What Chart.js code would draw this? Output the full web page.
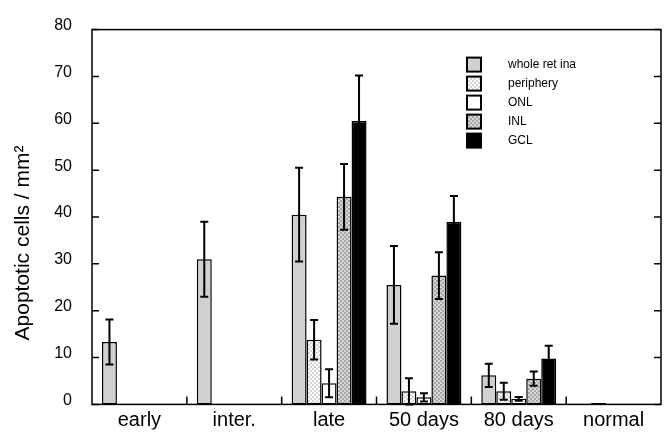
<!DOCTYPE html>
<html>
<head>
<meta charset="utf-8">
<script src="https://cdn.jsdelivr.net/npm/chart.js@4"></script>
<style>
html, body { margin: 0; padding: 0; background: #fff; }
#wrap { width: 666px; height: 434px; }
</style>
</head>
<body>
<div id="wrap"><canvas id="myChart"></canvas></div>
<script>
// data
var labels = ["early", "inter.", "late", "50 days", "80 days", "normal"];
var wholeRetina    = [13.3, 31.0, 40.5, 25.5, 6.2, null];
var wholeRetinaErr = [4.8, 8.0, 10.0, 8.3, 2.5, null];
var periphery      = [null, null, 13.8, 2.8, 2.8, 0.3];
var peripheryErr   = [null, null, 4.2, 2.8, 1.8, null];
var onl            = [null, null, 4.5, 1.5, 1.2, null];
var onlErr         = [null, null, 3.0, 0.9, 0.4, null];
var inl            = [null, null, 44.3, 27.5, 5.5, null];
var inlErr         = [null, null, 7.0, 5.0, 1.5, null];
var gcl            = [null, null, 60.5, 39.0, 9.8, null];
var gclErr         = [null, null, 9.7, 5.5, 2.7, null];
var yTicks = [0, 10, 20, 30, 40, 50, 60, 70, 80];
var yTitle = "Apoptotic cells / mm\u00b2";

var FONT = "'Liberation Sans', Arial, sans-serif";

function checker(c1, c2, size) {
    var cv = document.createElement("canvas");
    cv.width = size * 2;
    cv.height = size * 2;
    var c = cv.getContext("2d");
    c.fillStyle = c1;
    c.fillRect(0, 0, size * 2, size * 2);
    c.fillStyle = c2;
    c.fillRect(0, 0, size, size);
    c.fillRect(size, size, size, size);
    return document.getElementById("myChart").getContext("2d").createPattern(cv, "repeat");
}

var periphFill = checker("#ffffff", "#d4d4d4", 2);
var inlFill = checker("#d8d8d8", "#a6a6a6", 2);

function ds(label, data, err, fill) {
    return {
        label: label,
        data: data,
        err: err,
        backgroundColor: fill,
        borderColor: "#000",
        borderWidth: 1.5,
        borderSkipped: false,
        barPercentage: 1.0,
        categoryPercentage: 0.79
    };
}

// error bars
var errorBars = {
    id: "errorBars",
    afterDatasetsDraw: function (chart) {
        var ctx = chart.ctx;
        var y = chart.scales.y;
        ctx.save();
        ctx.strokeStyle = "#000";
        ctx.lineWidth = 2;
        chart.data.datasets.forEach(function (d, i) {
            var meta = chart.getDatasetMeta(i);
            meta.data.forEach(function (bar, j) {
                var v = d.data[j], e = d.err[j];
                if (v == null || e == null) return;
                var x = bar.x;
                var top = y.getPixelForValue(v + e);
                var bot = y.getPixelForValue(Math.max(v - e, 0));
                ctx.beginPath();
                ctx.moveTo(x, top); ctx.lineTo(x, bot);
                ctx.moveTo(x - 4, top); ctx.lineTo(x + 4, top);
                ctx.moveTo(x - 4, bot); ctx.lineTo(x + 4, bot);
                ctx.stroke();
            });
        });
        ctx.restore();
    }
};

// box frame with inward ticks, plus the y title
var frame = {
    id: "frame",
    afterDraw: function (chart) {
        var ctx = chart.ctx;
        var a = chart.chartArea;
        var y = chart.scales.y, x = chart.scales.x;
        ctx.save();
        ctx.strokeStyle = "#000";
        ctx.lineWidth = 1.5;
        ctx.strokeRect(a.left, a.top, a.right - a.left, a.bottom - a.top);
        ctx.beginPath();
        yTicks.forEach(function (t) {
            var py = y.getPixelForValue(t);
            ctx.moveTo(a.left, py); ctx.lineTo(a.left + 7, py);
            ctx.moveTo(a.right, py); ctx.lineTo(a.right - 7, py);
        });
        for (var i = 1; i < labels.length; i++) {
            var px = (x.getPixelForValue(i - 1) + x.getPixelForValue(i)) / 2;
            ctx.moveTo(px, a.bottom); ctx.lineTo(px, a.bottom - 8);
        }
        ctx.stroke();

        ctx.translate(23, 243);
        ctx.rotate(-Math.PI / 2);
        ctx.font = "21px " + FONT;
        ctx.fillStyle = "#000";
        ctx.textAlign = "center";
        ctx.textBaseline = "middle";
        ctx.fillText(yTitle, 0, 0);
        ctx.restore();
    }
};

// legend inside the plot
var boxLegend = {
    id: "boxLegend",
    afterDraw: function (chart) {
        var ctx = chart.ctx;
        var a = chart.chartArea;
        var x0 = a.right - 194, y0 = a.top + 35;
        ctx.save();
        ctx.font = "12px " + FONT;
        ctx.textBaseline = "middle";
        chart.data.datasets.forEach(function (d, i) {
            var cy = y0 + i * 19;
            ctx.fillStyle = d.backgroundColor;
            ctx.fillRect(x0, cy - 7, 14, 14);
            ctx.strokeStyle = "#000";
            ctx.lineWidth = 2;
            ctx.strokeRect(x0, cy - 7, 14, 14);
            ctx.fillStyle = "#000";
            ctx.fillText(d.label, x0 + 41, cy);
        });
        ctx.restore();
    }
};

new Chart(document.getElementById("myChart"), {
    type: "bar",
    data: {
        labels: labels,
        datasets: [
            ds("whole ret ina", wholeRetina, wholeRetinaErr, "#d0d0d0"),
            ds("periphery", periphery, peripheryErr, periphFill),
            ds("ONL", onl, onlErr, "#ffffff"),
            ds("INL", inl, inlErr, inlFill),
            ds("GCL", gcl, gclErr, "#000000")
        ]
    },
    options: {
        responsive: true,
        maintainAspectRatio: false,
        animation: false,
        layout: { padding: { top: 23, right: 5, left: 0, bottom: 0 } },
        plugins: {
            legend: { display: false },
            tooltip: { enabled: false }
        },
        scales: {
            x: {
                grid: { display: false, drawTicks: false },
                border: { display: false },
                ticks: { color: "#000", font: { family: FONT, size: 20 }, padding: 4 },
                afterFit: function (s) { s.height = 25; }
            },
            y: {
                min: 0,
                max: 80,
                grid: { display: false, drawTicks: false },
                border: { display: false },
                afterBuildTicks: function (s) { s.ticks = yTicks.map(function (v) { return { value: v }; }); },
                ticks: { color: "#000", font: { family: FONT, size: 16 }, padding: 20, labelOffset: -4 },
                afterFit: function (s) { s.width = 92; }
            }
        }
    },
    plugins: [errorBars, frame, boxLegend]
});
</script>
</body>
</html>
